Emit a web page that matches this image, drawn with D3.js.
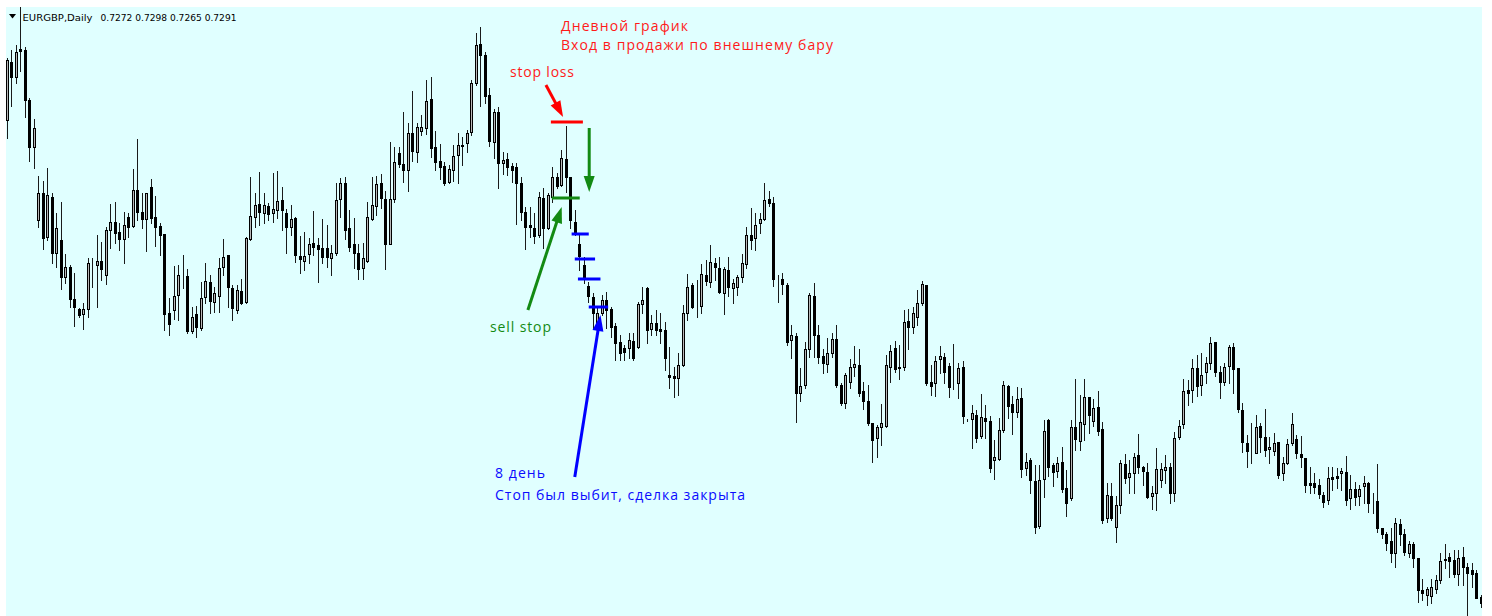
<!DOCTYPE html>
<html>
<head>
<meta charset="utf-8">
<style>
    body { margin: 0; background: #ffffff; }
    svg { display: block; }
</style>
</head>
<body>
<svg id="container" width="1492" height="616"></svg>
<script src="https://cdn.jsdelivr.net/npm/d3@7"></script>
<script>
// EURGBP daily bars, prices in 1/10000 (7840 = 0.7840), oldest first
let opens = [7780,7838,7823,7851,7850,7800,7753,7680,7707,7663,
    7703,7647,7660,7623,7633,7601,7591,7586,7591,7636,
    7635,7639,7625,7670,7678,7668,7661,7683,7674,7710,
    7688,7681,7713,7683,7674,7666,7587,7590,7605,7625,
    7624,7569,7586,7572,7603,7618,7598,7604,7633,7645,
    7612,7590,7609,7598,7661,7683,7696,7687,7694,7687,
    7690,7700,7687,7673,7682,7644,7639,7646,7657,7655,
    7652,7652,7642,7647,7701,7717,7672,7656,7647,7632,
    7639,7681,7694,7717,7701,7656,7701,7747,7736,7730,
    7767,7748,7769,7772,7801,7753,7739,7734,7718,7730,
    7745,7755,7757,7768,7817,7856,7845,7805,7758,7788,
    7737,7741,7734,7733,7717,7688,7675,7672,7665,7702,
    7672,7703,7723,7715,7741,7723,7678,7656,7635,7614,
    7603,7575,7587,7600,7591,7574,7558,7552,7552,7559,
    7553,7596,7612,7571,7577,7571,7570,7525,7524,7522,
    7535,7587,7615,7595,7594,7625,7618,7637,7632,7607,
    7630,7612,7613,7623,7636,7665,7662,7677,7681,7701,
    7697,7620,7621,7615,7560,7564,7507,7515,7551,7604,
    7565,7544,7536,7547,7561,7515,7497,7518,7533,7535,
    7509,7499,7477,7462,7473,7474,7533,7552,7533,7533,
    7579,7573,7583,7597,7615,7518,7517,7541,7543,7534,
    7513,7517,7533,7480,7481,7485,7464,7482,7479,7440,
    7441,7470,7514,7496,7488,7502,7432,7440,7419,7374,
    7421,7480,7435,7429,7438,7412,7402,7473,7459,7476,
    7503,7479,7493,7471,7382,7404,7373,7395,7436,7423,
    7427,7445,7433,7428,7404,7407,7420,7430,7433,7407,
    7463,7476,7510,7510,7532,7515,7528,7537,7558,7528,
    7518,7534,7553,7532,7490,7457,7447,7447,7474,7463,
    7451,7449,7458,7427,7437,7457,7461,7446,7442,7417,
    7417,7415,7405,7400,7423,7424,7427,7428,7402,7411,
    7404,7414,7417,7398,7399,7372,7366,7359,7347,7376,
    7366,7347,7356,7342,7310,7305,7304,7311,7320,7341,
    7343,7340,7326,7343,7333,7330,7327,7303]

let highs = [7842,7850,7855,7895,7853,7802,7781,7724,7719,7732,
    7707,7687,7698,7646,7635,7627,7592,7597,7642,7642,
    7665,7658,7673,7696,7698,7677,7688,7687,7731,7761,
    7707,7707,7721,7704,7677,7666,7602,7634,7635,7645,
    7631,7593,7594,7618,7637,7625,7613,7642,7661,7645,
    7615,7615,7621,7663,7723,7707,7728,7707,7697,7727,
    7729,7713,7691,7695,7683,7664,7668,7662,7689,7662,
    7681,7675,7655,7717,7722,7723,7690,7682,7656,7657,
    7698,7723,7724,7726,7709,7758,7753,7753,7788,7777,
    7809,7777,7785,7820,7823,7769,7756,7738,7735,7755,
    7767,7763,7770,7820,7867,7873,7848,7812,7791,7793,
    7748,7747,7737,7737,7723,7693,7693,7687,7708,7712,
    7707,7733,7727,7750,7774,7723,7690,7665,7643,7618,
    7607,7593,7605,7608,7593,7577,7565,7555,7567,7567,
    7598,7613,7613,7585,7590,7587,7578,7553,7533,7547,
    7595,7626,7617,7620,7636,7640,7655,7642,7643,7633,
    7643,7621,7625,7646,7673,7692,7687,7687,7717,7709,
    7703,7625,7627,7617,7575,7567,7532,7558,7607,7617,
    7575,7551,7562,7567,7575,7517,7527,7541,7554,7551,
    7518,7515,7477,7475,7496,7545,7555,7559,7555,7590,
    7591,7593,7610,7619,7615,7535,7544,7554,7547,7537,
    7556,7537,7539,7481,7495,7490,7506,7495,7484,7460,
    7482,7519,7515,7504,7513,7512,7447,7442,7435,7435,
    7480,7481,7437,7443,7453,7430,7480,7521,7505,7521,
    7503,7501,7509,7478,7417,7417,7404,7440,7446,7440,
    7447,7466,7434,7437,7414,7452,7437,7445,7437,7468,
    7480,7521,7520,7541,7545,7547,7543,7563,7558,7534,
    7537,7555,7557,7532,7497,7465,7477,7485,7477,7491,
    7463,7467,7458,7443,7461,7487,7465,7464,7442,7433,
    7427,7421,7408,7433,7433,7432,7432,7444,7425,7418,
    7415,7424,7418,7407,7436,7372,7368,7372,7382,7381,
    7371,7359,7358,7342,7321,7313,7321,7325,7347,7356,
    7347,7350,7350,7353,7337,7337,7330,7305]

let lows = [7762,7794,7817,7829,7783,7739,7732,7673,7651,7660,
    7637,7633,7611,7617,7593,7574,7583,7571,7583,7613,
    7593,7620,7616,7652,7657,7650,7637,7663,7673,7680,
    7672,7649,7677,7654,7645,7570,7565,7581,7580,7612,
    7567,7567,7563,7570,7597,7587,7588,7588,7625,7593,
    7580,7587,7596,7597,7660,7673,7675,7677,7680,7678,
    7682,7670,7647,7665,7638,7627,7630,7637,7645,7618,
    7637,7633,7625,7645,7683,7661,7649,7632,7621,7621,
    7638,7680,7685,7692,7631,7656,7698,7733,7718,7709,
    7739,7738,7765,7766,7743,7730,7721,7715,7717,7719,
    7717,7735,7748,7765,7815,7794,7797,7754,7742,7712,
    7726,7725,7718,7676,7680,7651,7663,7657,7663,7652,
    7671,7698,7712,7714,7708,7672,7665,7630,7617,7598,
    7572,7567,7585,7572,7563,7540,7540,7540,7542,7540,
    7552,7587,7557,7565,7565,7557,7530,7512,7503,7505,
    7534,7580,7592,7583,7587,7615,7613,7620,7607,7586,
    7604,7597,7605,7618,7632,7651,7650,7667,7680,7694,
    7614,7598,7606,7555,7542,7478,7499,7512,7543,7543,
    7537,7527,7528,7543,7513,7495,7492,7512,7524,7504,
    7491,7475,7438,7443,7455,7473,7518,7528,7521,7530,
    7551,7567,7575,7595,7515,7505,7504,7527,7517,7503,
    7511,7502,7477,7479,7452,7458,7462,7462,7428,7421,
    7440,7468,7482,7466,7483,7423,7425,7407,7367,7372,
    7403,7424,7414,7423,7408,7384,7400,7450,7450,7460,
    7467,7474,7465,7377,7378,7380,7358,7387,7417,7407,
    7407,7427,7415,7402,7391,7390,7413,7417,7397,7399,
    7461,7472,7495,7498,7504,7505,7517,7531,7524,7502,
    7515,7517,7507,7488,7448,7433,7437,7447,7448,7444,
    7437,7445,7422,7420,7436,7455,7442,7433,7408,7407,
    7407,7402,7393,7396,7410,7412,7410,7395,7391,7395,
    7395,7397,7388,7387,7368,7362,7350,7338,7333,7355,
    7345,7343,7333,7298,7300,7295,7297,7307,7317,7332,
    7323,7323,7315,7315,7284,7313,7302,7293]

let closes = [7840,7823,7848,7849,7800,7753,7772,7707,7662,7705,
    7647,7672,7623,7633,7601,7593,7585,7591,7637,7636,
    7639,7631,7670,7678,7667,7661,7675,7673,7710,7688,
    7681,7707,7682,7673,7665,7586,7576,7604,7625,7625,
    7569,7583,7573,7602,7619,7599,7607,7632,7643,7613,
    7592,7610,7597,7662,7684,7695,7688,7695,7686,7691,
    7699,7690,7673,7681,7645,7641,7644,7656,7653,7651,
    7643,7643,7647,7700,7717,7670,7653,7647,7631,7642,
    7683,7695,7716,7702,7656,7701,7738,7736,7730,7767,
    7749,7773,7773,7799,7752,7738,7733,7717,7731,7744,
    7755,7754,7767,7817,7855,7845,7804,7759,7788,7737,
    7740,7733,7730,7717,7688,7673,7673,7664,7703,7672,
    7705,7723,7714,7742,7723,7680,7668,7644,7623,7604,
    7587,7587,7600,7590,7573,7557,7547,7548,7560,7542,
    7596,7600,7570,7577,7570,7569,7542,7523,7522,7535,
    7587,7613,7593,7595,7626,7619,7638,7633,7608,7631,
    7613,7617,7623,7637,7665,7660,7675,7681,7700,7697,
    7621,7620,7616,7558,7565,7507,7514,7551,7605,7565,
    7543,7537,7547,7561,7515,7497,7525,7533,7536,7507,
    7499,7477,7460,7473,7477,7535,7549,7531,7532,7578,
    7573,7587,7597,7616,7517,7514,7539,7544,7528,7513,
    7513,7532,7484,7480,7487,7462,7483,7479,7432,7443,
    7470,7515,7494,7488,7501,7431,7438,7420,7373,7420,
    7469,7433,7428,7437,7411,7397,7473,7461,7478,7503,
    7485,7492,7469,7380,7405,7382,7395,7437,7422,7427,
    7443,7433,7429,7403,7407,7431,7431,7433,7407,7462,
    7474,7509,7507,7532,7514,7525,7537,7557,7528,7518,
    7533,7553,7531,7491,7458,7449,7447,7473,7463,7450,
    7453,7457,7425,7437,7456,7476,7447,7443,7415,7415,
    7413,7406,7398,7422,7421,7422,7429,7400,7411,7403,
    7411,7417,7397,7398,7372,7366,7357,7347,7377,7366,
    7348,7356,7342,7310,7307,7311,7313,7320,7339,7340,
    7339,7326,7342,7333,7327,7326,7302,7297]

let symbol = "EURGBP,Daily"
let lastBar = ["0.7272", "0.7298", "0.7265", "0.7291"]

// trade levels: price and the bar span (bar index) they are drawn over
let stopLoss = [0.7778, 120.7, 127.8]
let sellStop = [0.7702, 120.9, 127.1]
let trailPrices = [0.7666, 0.7641, 0.7621, 0.7593]
let trailFrom = [125.3, 126.0, 126.7, 129.1]
let trailTo = [129.1, 130.5, 131.7, 133.4]

// arrows as [bar index, price] -> [bar index, price]
let redArrow = [[119.6, 0.7815], [123.4, 0.7783]]
let greenDown = [[129.2, 0.7772], [129.2, 0.7708]]
let greenUp = [[115.6, 0.7590], [123.1, 0.7693]]
let blueArrow = [[126.0, 0.7423], [131.7, 0.7585]]

let width = 1492
let height = 616
let plot = {left: 6, top: 7, right: 1482, bottom: 616}

let red = "#ff1a1a"
let green = "#138a13"
let blue = "#0a0aff"

let svg = d3.select("#container")

svg.append("rect")
    .attr("x", plot.left).attr("y", plot.top)
    .attr("width", plot.right - plot.left).attr("height", plot.bottom - plot.top)
    .attr("fill", "#e0ffff")

svg.append("clipPath").attr("id", "clip")
    .append("rect")
    .attr("x", plot.left).attr("y", plot.top)
    .attr("width", plot.right - plot.left).attr("height", plot.bottom - plot.top)

let bars = opens.map((o, i) => ({
    i: i,
    o: o / 10000,
    h: highs[i] / 10000,
    l: lows[i] / 10000,
    c: closes[i] / 10000
}))

// one bar every ~4.5px, like the terminal at this zoom
let x = d3.scaleLinear()
    .domain([0, bars.length - 1])
    .range([6.7, 1481])

let y = d3.scaleLinear()
    .domain([0.7284, 0.7900])
    .range([plot.bottom, 0])

let px = d => Math.round(x(d.i))

let chart = svg.append("g").attr("clip-path", "url(#clip)")

// wicks
chart.selectAll("line.wick")
    .data(bars)
    .enter().append("line")
    .attr("class", "wick")
    .attr("x1", d => px(d) + 0.5)
    .attr("x2", d => px(d) + 0.5)
    .attr("y1", d => Math.round(y(d.h)))
    .attr("y2", d => Math.round(y(d.l)) + 1)
    .attr("stroke", "#1a1a1a")
    .attr("stroke-width", 1)

// bodies: hollow (greyish after the screenshot was scaled) when close > open, black otherwise
chart.selectAll("rect.body")
    .data(bars)
    .enter().append("rect")
    .attr("class", "body")
    .attr("x", d => px(d) - 0.5)
    .attr("width", 2)
    .attr("y", d => Math.round(y(Math.max(d.o, d.c))) + 0.5)
    .attr("height", d => Math.max(0, Math.round(y(Math.min(d.o, d.c))) - Math.round(y(Math.max(d.o, d.c)))))
    .attr("fill", d => d.c > d.o ? "#b8b8b8" : "#000000")
    .attr("stroke", "#000")
    .attr("stroke-width", 1)

// header
svg.append("path")
    .attr("d", "M9,14 L16,14 L12.5,18.5 Z")
    .attr("fill", "#000")

svg.append("text")
    .attr("x", 22.5).attr("y", 20.5)
    .attr("font-family", "DejaVu Sans")
    .attr("font-size", 9)
    .attr("textLength", 70)
    .attr("lengthAdjust", "spacingAndGlyphs")
    .attr("fill", "#000")
    .text(symbol)

svg.append("text")
    .attr("x", 100.5).attr("y", 20.5)
    .attr("font-family", "DejaVu Sans")
    .attr("font-size", 9)
    .attr("textLength", 136)
    .attr("lengthAdjust", "spacingAndGlyphs")
    .attr("fill", "#000")
    .text(lastBar.join(" "))

// trade levels
function level(price, from, to, color) {
    svg.append("line")
        .attr("x1", x(from)).attr("x2", x(to))
        .attr("y1", y(price)).attr("y2", y(price))
        .attr("stroke", color)
        .attr("stroke-width", 3)
}

level(stopLoss[0], stopLoss[1], stopLoss[2], "#ff0000")
level(sellStop[0], sellStop[1], sellStop[2], green)
trailPrices.forEach((p, k) => level(p, trailFrom[k], trailTo[k], "#0000ff"))

// arrows with a solid head at the tip
function arrow(pts, color) {
    let x1 = x(pts[0][0]), y1 = y(pts[0][1])
    let x2 = x(pts[1][0]), y2 = y(pts[1][1])
    let len = Math.hypot(x2 - x1, y2 - y1)
    let ux = (x2 - x1) / len, uy = (y2 - y1) / len
    let headLen = 16, headW = 5.5
    let bx = x2 - ux * headLen, by = y2 - uy * headLen

    svg.append("line")
        .attr("x1", x1).attr("y1", y1)
        .attr("x2", bx + ux * 2).attr("y2", by + uy * 2)
        .attr("stroke", color)
        .attr("stroke-width", 3)

    svg.append("path")
        .attr("d", `M${x2},${y2} L${bx - uy * headW},${by + ux * headW} L${bx + uy * headW},${by - ux * headW} Z`)
        .attr("fill", color)
}

arrow(redArrow, "#ff0000")
arrow(greenDown, green)
arrow(greenUp, green)
arrow(blueArrow, "#0000ff")

// notes
let notes = [
    {t: "Дневной график", x: 561, y: 30.5, w: 127, c: red},
    {t: "Вход в продажи по внешнему бару", x: 561, y: 49.5, w: 272, c: red},
    {t: "stop loss", x: 510, y: 77, w: 64, c: red},
    {t: "sell stop", x: 490, y: 332, w: 61, c: green},
    {t: "8 день", x: 495, y: 478, w: 50, c: blue},
    {t: "Стоп был выбит, сделка закрыта", x: 495, y: 500, w: 250, c: blue}
]

svg.selectAll("text.note")
    .data(notes)
    .enter().append("text")
    .attr("class", "note")
    .attr("x", d => d.x)
    .attr("y", d => d.y)
    .attr("font-family", "Open Sans")
    .attr("font-size", 14)
    .attr("textLength", d => d.w)
    .attr("lengthAdjust", "spacing")
    .attr("fill", d => d.c)
    .text(d => d.t)
</script>
</body>
</html>
